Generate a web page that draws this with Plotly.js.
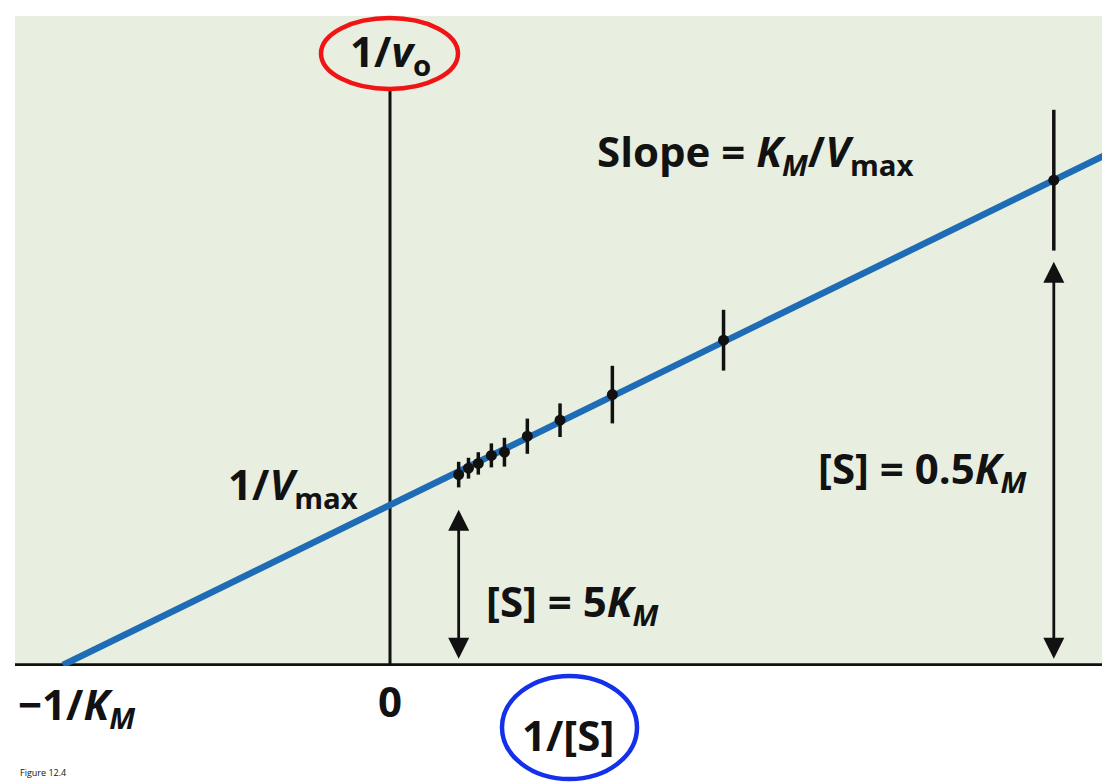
<!DOCTYPE html>
<html>
<head>
<meta charset="utf-8">
<script src="https://cdn.plot.ly/plotly-3.0.1.min.js"></script>
<style>html,body{margin:0;padding:0;background:#fff;}#chart{width:1102px;height:782px;}</style>
</head>
<body>
<div id="chart"></div>
<script>
// Lineweaver–Burk data (x in units of 1/K_M, y in units of 1/V_max)
const invS = [0.21, 0.24, 0.27, 0.31, 0.35, 0.42, 0.52, 0.68, 1.02, 2.03];
const invV = [1.19, 1.23, 1.26, 1.31, 1.33, 1.43, 1.53, 1.69, 2.03, 3.03];
const errV = [0.08, 0.065, 0.07, 0.075, 0.09, 0.11, 0.105, 0.18, 0.19, 0.44];
const fitX = [-1, 2.3];
const fitY = [0, 3.3];
const yAxisTop = 3.6;
const arrow5Km = {x: invS[0], top: 0.97};
const arrowHalfKm = {x: invS[9], top: 2.52};

// layout geometry (pixels)
const W = 1102, H = 782;
const L = 15, R = 0, T = 16, B = 116;
const pw = W - L - R, ph = H - T - B;
function px(x){ return (x - L) / pw; }
function py(y){ return (H - B - y) / ph; }

const font = '"Open Sans", "Noto Sans", sans-serif';
const txt = '#121212';

const traces = [
  {x: fitX, y: fitY, mode: 'lines', line: {color: '#1f6cb6', width: 6.5}, hoverinfo: 'skip', cliponaxis: true},
  {x: invS, y: invV, mode: 'markers', marker: {color: '#111', size: 11},
   error_y: {type: 'data', array: errV, visible: true, color: '#111', thickness: 3.5, width: 0},
   cliponaxis: true}
];

function lab(text, x, y, size){
  return {text: text, xref: 'paper', yref: 'paper', x: px(x), y: py(y), xanchor: 'center', yanchor: 'middle',
          showarrow: false, font: {family: font, size: size || 42, color: txt, weight: 700}};
}

const annotations = [
  lab('<b>1/<i>v</i><sub>o</sub></b>', 390, 53, 42),
  lab('<b>Slope = <i>K</i><sub><i>M</i></sub>/<i>V</i><sub>max</sub></b>', 755, 153),
  lab('<b>1/<i>V</i><sub>max</sub></b>', 293, 486),
  lab('<b>[S] = 0.5<i>K</i><sub><i>M</i></sub></b>', 922, 470),
  lab('<b>[S] = 5<i>K</i><sub><i>M</i></sub></b>', 573, 603),
  lab('<b>\u22121/<i>K</i><sub><i>M</i></sub></b>', 76, 706),
  lab('<b>0</b>', 390, 700),
  lab('<b>1/[S]</b>', 568, 734),
  {text: 'Figure 12.4', xref: 'paper', yref: 'paper', x: px(18), y: py(781), xanchor: 'left', yanchor: 'bottom',
   showarrow: false, font: {family: font, size: 9, color: txt}},
  // double-headed arrows
  {x: arrow5Km.x, y: arrow5Km.top, ax: arrow5Km.x, ay: 0.03, xref: 'x', yref: 'y', axref: 'x', ayref: 'y',
   text: '', showarrow: true, arrowside: 'end+start', arrowhead: 2, startarrowhead: 2,
   arrowsize: 1.5, startarrowsize: 1.5, arrowwidth: 2.8, arrowcolor: '#111'},
  {x: arrowHalfKm.x, y: arrowHalfKm.top, ax: arrowHalfKm.x, ay: 0.03, xref: 'x', yref: 'y', axref: 'x', ayref: 'y',
   text: '', showarrow: true, arrowside: 'end+start', arrowhead: 2, startarrowhead: 2,
   arrowsize: 1.5, startarrowsize: 1.5, arrowwidth: 2.8, arrowcolor: '#111'}
];

const shapes = [
  // x axis line
  {type: 'line', xref: 'paper', yref: 'y', x0: 0, x1: 1, y0: 0, y1: 0, line: {color: '#111', width: 3.5}, layer: 'below'},
  // y axis line
  {type: 'line', xref: 'x', yref: 'y', x0: 0, x1: 0, y0: 0, y1: yAxisTop, line: {color: '#111', width: 3}, layer: 'below'},
  // red ellipse
  {type: 'circle', xref: 'paper', yref: 'paper', x0: px(321), x1: px(458), y0: py(89), y1: py(18),
   line: {color: '#f01414', width: 4.5}},
  // blue ellipse
  {type: 'circle', xref: 'paper', yref: 'paper', x0: px(502), x1: px(637), y0: py(779), y1: py(676),
   line: {color: '#1530ea', width: 4.5}}
];

const ax = {showgrid: false, zeroline: false, showticklabels: false, showline: false, ticks: '', fixedrange: true};

const layout = {
  width: W, height: H,
  margin: {l: L, r: R, t: T, b: B, pad: 0},
  paper_bgcolor: '#ffffff',
  plot_bgcolor: '#e8eee0',
  showlegend: false,
  xaxis: Object.assign({range: [(L - 390) / 327, (W - R - 390) / 327]}, ax),
  yaxis: Object.assign({range: [(665 - (H - B)) / 160, (665 - T) / 160]}, ax),
  annotations: annotations,
  shapes: shapes
};

Plotly.newPlot('chart', traces, layout, {displayModeBar: false, staticPlot: true});
</script>
</body>
</html>
